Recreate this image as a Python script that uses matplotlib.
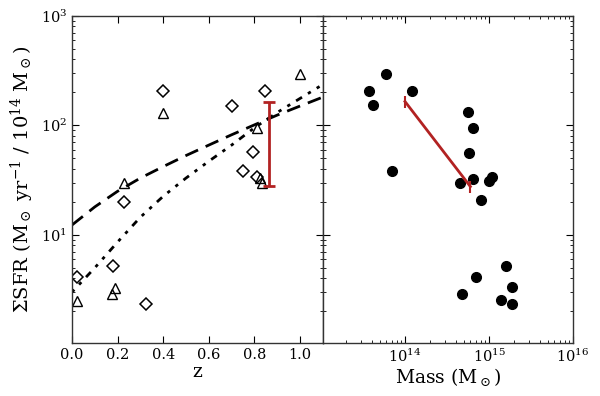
import matplotlib
matplotlib.use("Agg")
import matplotlib.pyplot as plt
import numpy as np

# ---- data ----
diam_z = [0.398, 0.703, 0.845, 0.795, 0.749, 0.810, 0.229, 0.023, 0.181, 0.323]
diam_sfr = [208, 151, 208, 56.5, 37.9, 33.6, 20.1, 4.1, 5.2, 2.34]

tri_z = [0.398, 1.000, 0.811, 0.823, 0.833, 0.229, 0.023, 0.190, 0.174]
tri_sfr = [129, 295, 95, 33.0, 29.7, 30.0, 2.5, 3.3, 2.9]

dash_z = [0.0, 0.1, 0.2, 0.3, 0.4, 0.5, 0.6, 0.7, 0.8, 0.9, 1.0, 1.1]
dash_sfr = [12.3, 18.0, 25.0, 33.0, 42.0, 53.0, 66.0, 82.0, 101.0, 124.0, 150.0, 181.0]

dot_z = [0.0, 0.1, 0.2, 0.3, 0.4, 0.5, 0.6, 0.7, 0.8, 0.9, 1.0, 1.1]
dot_sfr = [3.0, 5.0, 8.6, 14.5, 22.5, 33.0, 47.0, 66.0, 95.0, 131.0, 176.0, 236.0]

err_z = 0.865
err_lo, err_hi = 28.0, 164.0

mass = [5.96e13, 3.69e13, 1.197e14, 4.12e13, 7.03e13, 5.65e14, 6.43e14, 5.75e14,
        6.43e14, 4.50e14, 1.00e15, 1.10e15, 8.0e14, 1.58e15, 7.05e14, 1.90e15,
        4.79e14, 1.39e15, 1.90e15]
mass_sfr = [297, 207, 207, 152, 37.9, 132, 94, 56, 32.2, 29.6, 30.7, 33.9, 20.9,
            5.2, 4.1, 3.33, 2.91, 2.55, 2.34]

red_mass = [1.0e14, 6.0e14]
red_sfr = [165.0, 27.6]

z_ticks = [0.0, 0.2, 0.4, 0.6, 0.8, 1.0]
z_ticklabels = ["0.0", "0.2", "0.4", "0.6", "0.8", "1.0"]

plt.rcParams['font.family'] = ['DejaVu Serif']
plt.rcParams['mathtext.fontset'] = 'dejavuserif'

red = '#b22222'

fig = plt.figure(figsize=(6.0, 3.96), dpi=100)
ax1 = fig.add_axes([0.12, 0.134, 0.418, 0.826])
ax2 = fig.add_axes([0.538, 0.134, 0.417, 0.826], sharey=ax1)

ax1.set_yscale('log')
ax1.plot(diam_z, diam_sfr, linestyle='none', marker='D', ms=6.3, mfc='none', mec='k', mew=1.1)
ax1.plot(tri_z, tri_sfr, linestyle='none', marker='^', ms=6.5, mfc='none', mec='k', mew=1.0)
ax1.plot(dash_z, dash_sfr, color='k', lw=2, linestyle=(0, (5, 3)))
ax1.plot(dot_z, dot_sfr, color='k', lw=2, linestyle=(0, (1.2, 2.5, 1.2, 2.5, 2.5, 2.5)))
mid = np.sqrt(err_lo * err_hi)
ax1.errorbar([err_z], [mid], yerr=[[mid - err_lo], [err_hi - mid]],
             fmt='none', ecolor=red, elinewidth=2, capsize=4, capthick=2)
ax1.set_xlim(0, 1.1)
ax1.set_ylim(1.03, 1000)
ax1.set_xticks(z_ticks)
ax1.set_xticklabels(z_ticklabels)
ax1.set_xlabel('z', fontsize=13.5, labelpad=1)
ax1.set_ylabel(r'$\Sigma$SFR (M$_\odot$ yr$^{-1}$ / 10$^{14}$ M$_\odot$)', fontsize=14, labelpad=3)

ax2.set_xscale('log')
ax2.plot(mass, mass_sfr, linestyle='none', marker='o', ms=7, color='k')
ax2.plot(red_mass, red_sfr, color=red, lw=2, marker='|', ms=9, mew=1.5)
ax2.set_xlim(1.05e13, 1e16)
ax2.set_xlabel(r'Mass (M$_\odot$)', fontsize=13.5, labelpad=1)
plt.setp(ax2.get_yticklabels(), visible=False)

for ax in (ax1, ax2):
    ax.tick_params(which='both', direction='in', top=True, right=True, labelsize=10.5)
    ax.tick_params(which='major', length=5, width=0.8)
    ax.tick_params(which='minor', length=2.5, width=0.6)
    for s in ax.spines.values():
        s.set_linewidth(1.0)
        s.set_color('#333333')
ax1.tick_params(axis='x', which='minor', bottom=False, top=False)

fig.savefig('out.png', dpi=100)
